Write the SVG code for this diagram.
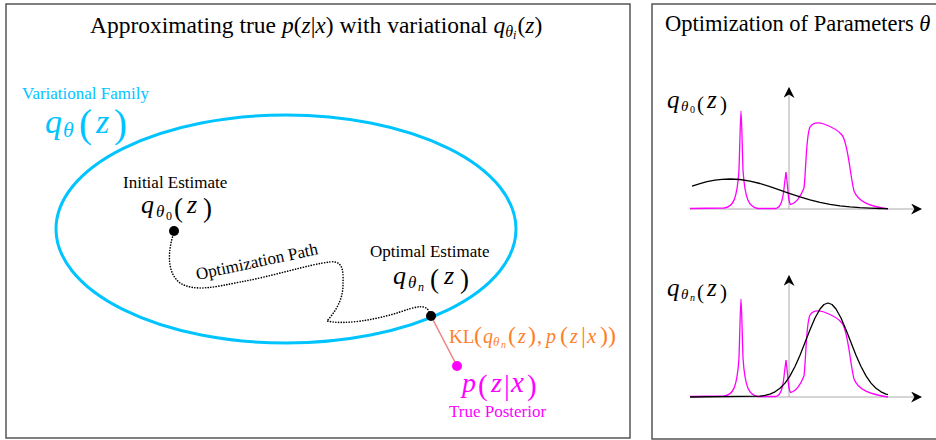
<svg xmlns="http://www.w3.org/2000/svg" width="936" height="440" viewBox="0 0 936 440">
<style>
text{font-family:"Liberation Serif","Times New Roman",serif;}
.i{font-style:italic;}
.lbl{font-size:17px;}
.frame{fill:#fff;stroke:#555;stroke-width:1.5;}
.axis{stroke:#aaa;stroke-width:1;fill:none;}
.mag{stroke:#ff00ff;stroke-width:1.3;fill:none;}
.blk{stroke:#000;stroke-width:1.3;fill:none;stroke-linejoin:round;}
</style>
<defs>
<marker id="arr" viewBox="0 0 10 10" refX="9" refY="5" markerWidth="11" markerHeight="11" markerUnits="userSpaceOnUse" orient="auto">
<path d="M0,0 L10,5 L0,10 L3,5 Z" fill="#000"/>
</marker>
<path id="post" class="mag" d="M690,208.5 L724,208 C733,207 737,200 739,170 C740,140 740.5,111 741,111 C741.5,111 742,140 743,170 C745,200 749,207 758,208.5 L776,208.5 C781,207 783,200 784.5,184 L786,172 L787.5,186 C788.5,198 789,204 791,204.5 C796,203 800,198 804,188 C806,172 806,135 810,127 C813,122 818,122 824,124 C832,127 838,130 842,135 C848,142 850,175 854,191 C858,201 868,206 888,209"/>
</defs>
<rect id="left-panel" class="frame" x="6" y="4" width="624" height="434"/>
<rect id="right-panel" class="frame" x="652" y="4" width="300" height="435"/>

<text x="90" y="33" font-size="23.5">Approximating true <tspan class="i">p</tspan>(<tspan class="i">z</tspan>|<tspan class="i">x</tspan>) with variational <tspan class="i">q</tspan><tspan class="i" font-size="16" dy="4">θ</tspan><tspan class="i" font-size="12" dy="2">i</tspan><tspan dy="-6" dx="1">(</tspan><tspan class="i">z</tspan>)</text>

<g id="variational-family" fill="#00c4ff">
<ellipse cx="286" cy="229" rx="230" ry="114" fill="none" stroke="#00c4ff" stroke-width="3"/>
<text class="lbl" x="22" y="99">Variational Family</text>
<text><tspan class="i" x="45" y="133" font-size="34">q</tspan><tspan class="i" x="63" y="137" font-size="22">θ</tspan><tspan x="79" y="137" font-size="39">(</tspan><tspan class="i" x="96" y="133" font-size="34">z</tspan><tspan x="114" y="137" font-size="39">)</tspan></text>
</g>

<g id="connectors">
<path d="M174,232 C168,250 166,272 180,283 C195,292 215,287 240,282 C270,277 310,264 330,262 C345,260 343,275 343,285 C343,300 335,312 327,321 C345,325 375,320 400,312 C415,307 428,302 430,315" fill="none" stroke="#000" stroke-width="1.6" stroke-dasharray="0.1 2.6" stroke-linecap="round"/>
<text class="lbl" x="258" y="267" text-anchor="middle" transform="rotate(-12 258 267)">Optimization Path</text>
<line x1="431" y1="316" x2="457" y2="366" stroke="#f08080" stroke-width="1.5"/>
</g>

<g id="initial-estimate">
<text class="lbl" x="123" y="188">Initial Estimate</text>
<text><tspan class="i" x="141" y="213" font-size="26">q</tspan><tspan class="i" x="156" y="217" font-size="17">θ</tspan><tspan x="166" y="220" font-size="12">0</tspan><tspan x="174" y="217" font-size="27">(</tspan><tspan class="i" x="187" y="213" font-size="26">z</tspan><tspan x="203" y="217" font-size="27">)</tspan></text>
<circle cx="174" cy="231" r="5" fill="#000"/>
</g>

<g id="optimal-estimate">
<text class="lbl" x="370" y="257">Optimal Estimate</text>
<text><tspan class="i" x="393" y="284" font-size="26">q</tspan><tspan class="i" x="408" y="288" font-size="17">θ</tspan><tspan class="i" x="418" y="291" font-size="12">n</tspan><tspan x="430" y="288" font-size="27">(</tspan><tspan class="i" x="444" y="284" font-size="26">z</tspan><tspan x="460" y="288" font-size="27">)</tspan></text>
<circle cx="431" cy="316" r="5" fill="#000"/>
</g>

<g id="kl-label" fill="#ff7f2a">
<text><tspan x="449" y="343" font-size="19">KL</tspan><tspan x="474" y="343" font-size="24">(</tspan><tspan class="i" x="483" y="343" font-size="20">q</tspan><tspan class="i" x="493" y="346" font-size="13">θ</tspan><tspan class="i" x="501" y="348" font-size="10">n</tspan><tspan x="508" y="343" font-size="24">(</tspan><tspan class="i" x="518" y="343" font-size="20">z</tspan><tspan x="528" y="343" font-size="24">)</tspan><tspan x="537" y="343" font-size="20">,</tspan><tspan class="i" x="546" y="343" font-size="20">p</tspan><tspan x="560" y="343" font-size="24">(</tspan><tspan class="i" x="570" y="343" font-size="20">z</tspan><tspan x="581" y="343" font-size="24">|</tspan><tspan class="i" x="587" y="343" font-size="21">x</tspan><tspan x="600" y="343" font-size="24">)</tspan><tspan x="608" y="343" font-size="24">)</tspan></text>
</g>

<g id="true-posterior" fill="#ff00ff">
<circle cx="457" cy="366" r="5"/>
<text><tspan class="i" x="462" y="392" font-size="28">p</tspan><tspan x="478" y="395" font-size="29">(</tspan><tspan class="i" x="491" y="392" font-size="28">z</tspan><tspan x="504" y="395" font-size="29">|</tspan><tspan class="i" x="511" y="392" font-size="29">x</tspan><tspan x="527" y="395" font-size="29">)</tspan></text>
<text class="lbl" x="449" y="417">True Posterior</text>
</g>

<text x="665" y="31" font-size="22.5">Optimization of Parameters <tspan class="i">θ</tspan></text>

<g id="plot-initial">
<line class="axis" x1="690" y1="209" x2="921" y2="209" marker-end="url(#arr)"/>
<line class="axis" x1="789" y1="209" x2="789" y2="88" marker-end="url(#arr)"/>
<use href="#post"/>
<polyline class="blk" points="692,186.1 700,183.6 707,181.7 715,180.2 722,179.3 730,179 740,179.5 750,181.1 760,183.5 770,186.7 780,190.1 790,193.6 800,196.9 810,199.8 820,202.3 830,204.3 840,205.8 850,206.9 860,207.7 870,208.2 880,208.5 888,208.7"/>
<text><tspan class="i" x="667" y="108" font-size="25">q</tspan><tspan class="i" x="681" y="111" font-size="15">θ</tspan><tspan x="690" y="113" font-size="10">0</tspan><tspan x="697" y="111" font-size="21">(</tspan><tspan class="i" x="707" y="108" font-size="25">z</tspan><tspan x="720" y="111" font-size="21">)</tspan></text>
</g>

<g id="plot-optimal">
<line class="axis" x1="690" y1="397" x2="921" y2="397" marker-end="url(#arr)"/>
<line class="axis" x1="789" y1="397" x2="789" y2="276" marker-end="url(#arr)"/>
<use href="#post" transform="translate(0,188)"/>
<polyline class="blk" points="690,397 760,396.2 765,395.4 770,394.1 775,391.8 780,388.3 785,383.1 790,375.9 795,366.5 800,355.2 805,342.6 810,329.7 815,318 820,309 824,304.5 828,303 832,304.5 836,309 841,318 846,329.7 851,342.6 856,355.2 861,366.5 866,375.9 871,383.1 876,388.3 881,391.8 886,394.1 888,394.7"/>
<text><tspan class="i" x="667" y="296" font-size="25">q</tspan><tspan class="i" x="681" y="299" font-size="15">θ</tspan><tspan class="i" x="690" y="301" font-size="10">n</tspan><tspan x="697" y="299" font-size="21">(</tspan><tspan class="i" x="707" y="296" font-size="25">z</tspan><tspan x="720" y="299" font-size="21">)</tspan></text>
</g>
</svg>
